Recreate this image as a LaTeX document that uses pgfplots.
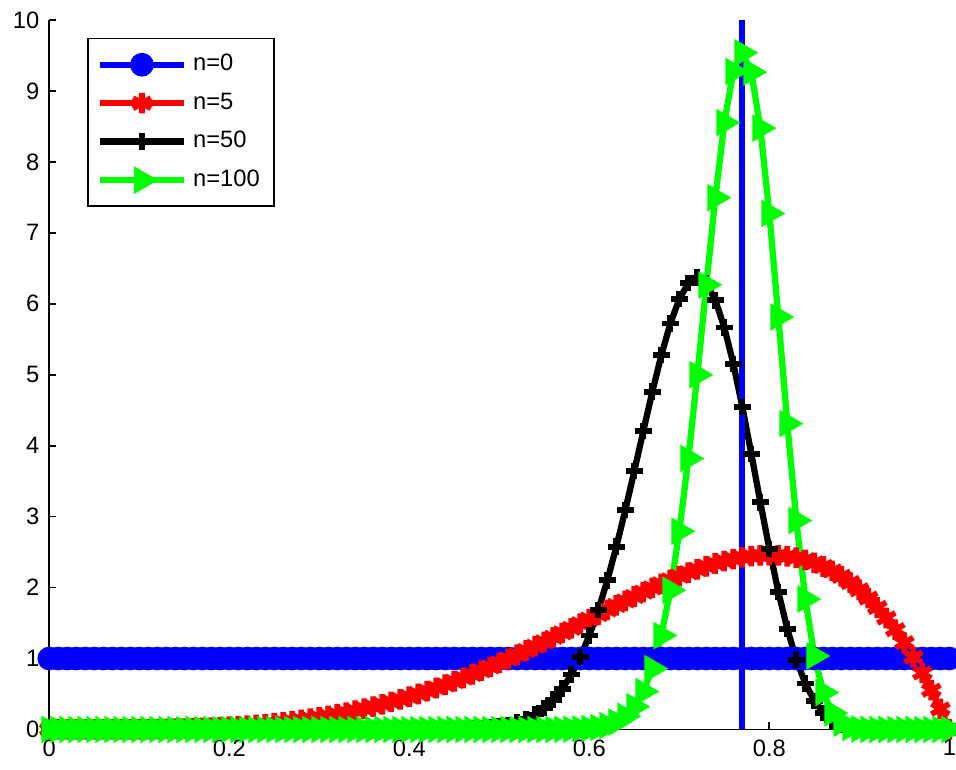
\documentclass[border=0pt]{standalone}
\usepackage{fontspec}
\setmainfont{Liberation Sans}
\usepackage{pgfplots}
\usepackage{pgfplotstable}
\pgfplotsset{compat=1.18}
\pgfplotstableread{
x red black green blue
0.00 0.0000 0 0 1
0.01 0.0000 0 0 1
0.02 0.0000 0 0 1
0.03 0.0000 0 0 1
0.04 0.0001 0 0 1
0.05 0.0002 0 0 1
0.06 0.0004 0 0 1
0.07 0.0007 0 0 1
0.08 0.0011 0 0 1
0.09 0.0018 0 0 1
0.10 0.0027 0 0 1
0.11 0.0039 0 0 1
0.12 0.0055 0 0 1
0.13 0.0075 0 0 1
0.14 0.0099 0 0 1
0.15 0.0129 0 0 1
0.16 0.0165 0 0 1
0.17 0.0208 0 0 1
0.18 0.0258 0 0 1
0.19 0.0317 0 0 1
0.20 0.0384 0 0 1
0.21 0.0461 0 0 1
0.22 0.0548 0 0 1
0.23 0.0646 0 0 1
0.24 0.0756 0 0 1
0.25 0.0879 0 0 1
0.26 0.1015 0 0 1
0.27 0.1164 0 0 1
0.28 0.1328 0 0 1
0.29 0.1507 0 0 1
0.30 0.1701 0 0 1
0.31 0.1912 0 0 1
0.32 0.2139 0 0 1
0.33 0.2384 0 0 1
0.34 0.2646 0 0 1
0.35 0.2927 0 0 1
0.36 0.3225 0 0 1
0.37 0.3542 0 0 1
0.38 0.3878 0 0 1
0.39 0.4234 0 0 1
0.40 0.4608 0.0001 0 1
0.41 0.5002 0.0002 0 1
0.42 0.5414 0.0004 0 1
0.43 0.5846 0.0009 0 1
0.44 0.6297 0.0019 0 1
0.45 0.6766 0.0036 0 1
0.46 0.7254 0.0062 0 1
0.47 0.7759 0.0104 0 1
0.48 0.8281 0.0169 0 1
0.49 0.8820 0.0271 0 1
0.50 0.9375 0.0425 0 1
0.51 0.9945 0.0653 0 1
0.52 1.0529 0.0984 0 1
0.53 1.1126 0.1455 0 1
0.54 1.1734 0.2111 0.0001 1
0.55 1.2353 0.3004 0.0003 1
0.56 1.2982 0.4196 0.0006 1
0.57 1.3617 0.5751 0.0015 1
0.58 1.4259 0.7738 0.0033 1
0.59 1.4904 1.0220 0.0071 1
0.60 1.5552 1.3245 0.0146 1
0.61 1.6200 1.6845 0.0292 1
0.62 1.6845 2.1031 0.0561 1
0.63 1.7486 2.5754 0.1042 1
0.64 1.8119 3.0937 0.1864 1
0.65 1.8743 3.6448 0.3221 1
0.66 1.9354 4.2072 0.5353 1
0.67 1.9950 4.7602 0.8574 1
0.68 2.0526 5.2755 1.3233 1
0.69 2.1080 5.7212 1.9626 1
0.70 2.1609 6.0690 2.7937 1
0.71 2.2108 6.2907 3.8199 1
0.72 2.2574 6.3680 4.9990 1
0.73 2.3003 6.2883 6.2666 1
0.74 2.3390 6.0490 7.4954 1
0.75 2.3730 5.6649 8.5526 1
0.76 2.4021 5.1520 9.2742 1
0.77 2.4256 4.5466 9.5375 1
0.78 2.4430 3.8826 9.2649 1
0.79 2.4539 3.2023 8.4760 1
0.80 2.4576 2.5436 7.2733 1
0.81 2.4537 1.9402 5.8138 1
0.82 2.4415 1.4154 4.3113 1
0.83 2.4204 0.9837 2.9454 1
0.84 2.3898 0.6480 1.8374 1
0.85 2.3490 0.4019 1.0359 1
0.86 2.2974 0.2332 0.5215 1
0.87 2.2343 0.1253 0.2312 1
0.88 2.1589 0.0616 0.0884 1
0.89 2.0705 0.0274 0.0285 1
0.90 1.9683 0.0108 0.0075 1
0.91 1.8515 0.0037 0.0016 1
0.92 1.7193 0.0011 0.0003 1
0.93 1.5709 0.0003 0 1
0.94 1.4053 0 0 1
0.95 1.2218 0 0 1
0.96 1.0192 0 0 1
0.97 0.7968 0 0 1
0.98 0.5534 0 0 1
0.99 0.2882 0 0 1
1.00 0 0 0 1
}\datatable
\definecolor{mblue}{RGB}{0,0,255}
\definecolor{mred}{RGB}{255,0,0}
\definecolor{mgreen}{RGB}{0,255,0}
\begin{document}
\begin{tikzpicture}
\begin{axis}[
  scale only axis, width=315pt, height=248.3pt,
  xmin=0, xmax=1, ymin=0, ymax=10,
  axis x line=bottom, axis y line=left,
  axis line style={-, line width=0.6pt},
  tick align=inside, major tick length=2.5pt,
  tick style={line width=0.6pt, black},
  xtick={0,0.2,0.4,0.6,0.8,1}, xticklabels={0,0.2,0.4,0.6,0.8,1},
  ytick={0,1,2,3,4,5,6,7,8,9,10},
  tick label style={font=\fontsize{8.3}{10}\selectfont},
  /pgf/number format/assume math mode=true,
  clip=false,
  legend cell align=left,
  legend style={at={(0.042,0.975)}, anchor=north west, draw=black,
    line width=0.6pt, font=\fontsize{8.3}{10}\selectfont, row sep=2.2pt,
    inner xsep=3pt, inner ysep=3.5pt},
  legend image code/.code={\draw[mark repeat=2,mark phase=2] plot coordinates {(0cm,0cm) (0.52cm,0cm) (1.04cm,0cm)};},
]
\addplot[mblue, line width=2.2pt, mark=*, mark size=3.9pt, mark options={solid, fill=mblue, line width=0.5pt}] table[x=x, y=blue] {\datatable};
\addlegendentry{n=0}
\addplot[mred, line width=2.2pt, mark=asterisk, mark size=3.6pt, mark options={solid, line width=2pt}] table[x=x, y=red] {\datatable};
\addlegendentry{n=5}
\addplot[black, line width=2.2pt, mark=+, mark size=2.9pt, mark options={solid, line width=2pt}] table[x=x, y=black] {\datatable};
\addlegendentry{n=50}
\addplot[mgreen, line width=2.2pt, mark=triangle*, mark size=5pt, mark options={solid, fill=mgreen, rotate=-90, line width=0.6pt}] table[x=x, y=green] {\datatable};
\addlegendentry{n=100}
\addplot[mblue, line width=2.2pt, forget plot] coordinates {(0.77,0) (0.77,10)};
\coordinate (bbl) at (rel axis cs:-0.0548,-0.056);
\coordinate (btr) at (rel axis cs:1.0074,1.0282);
\end{axis}
\pgfresetboundingbox
\path[use as bounding box] (bbl) rectangle (btr);
\end{tikzpicture}
\end{document}
